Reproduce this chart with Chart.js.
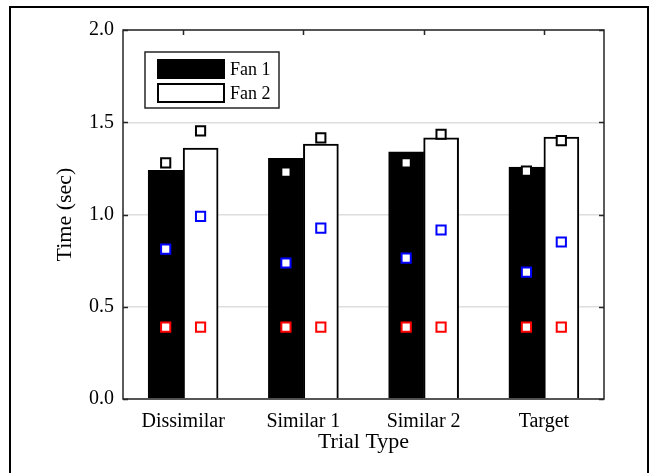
<!DOCTYPE html>
<html>
<head>
<meta charset="utf-8">
<script src="https://cdn.jsdelivr.net/npm/chart.js@4/dist/chart.umd.min.js"></script>
<style>
  html, body { margin: 0; padding: 0; background: #fff; }
  #wrap { width: 650px; height: 473px; }
</style>
</head>
<body>
<div id="wrap"><canvas id="chart"></canvas></div>
<script>
// data
var categories = ['Dissimilar', 'Similar 1', 'Similar 2', 'Target'];
var fan1 = [1.24, 1.305, 1.34, 1.257];
var fan2 = [1.36, 1.382, 1.415, 1.42];
var blackFan1 = [1.28, 1.23, 1.28, 1.235];
var blackFan2 = [1.453, 1.415, 1.435, 1.40];
var blueFan1 = [0.812, 0.737, 0.764, 0.688];
var blueFan2 = [0.99, 0.926, 0.916, 0.851];
var redFan1 = [0.39, 0.39, 0.39, 0.39];
var redFan2 = [0.39, 0.39, 0.39, 0.39];
var yTicks = [0, 0.5, 1.0, 1.5, 2.0];

var FONT = '"Liberation Serif", "Times New Roman", serif';
var SHIFT = 0.145; // half a bar, in category units

function pts(vals, side) {
  return vals.map(function (v, i) { return { x: i + side * SHIFT, y: v }; });
}

function marker(vals, side, color) {
  return {
    type: 'scatter', label: '', data: pts(vals, side), xAxisID: 'xs',
    pointStyle: 'rect', pointRadius: 6.5, pointBorderWidth: 2,
    borderColor: color, backgroundColor: '#fff', order: 0
  };
}

var framePlugin = {
  id: 'frame',
  beforeDraw: function (chart) {
    var ctx = chart.ctx;
    ctx.save();
    ctx.strokeStyle = '#000';
    ctx.lineWidth = 2;
    ctx.strokeRect(10, 7, 638, 500);
    ctx.restore();
  },
  afterDraw: function (chart) {
    var ctx = chart.ctx, a = chart.chartArea;
    var y = chart.scales.y, x = chart.scales.x;
    ctx.save();
    ctx.strokeStyle = '#262626';
    ctx.lineWidth = 1.5;
    ctx.strokeRect(a.left, a.top, a.right - a.left, a.bottom - a.top);
    ctx.beginPath();
    yTicks.forEach(function (t) {
      var py = Math.round(y.getPixelForValue(t)) + 0.5;
      ctx.moveTo(a.left, py); ctx.lineTo(a.left + 5, py);
      ctx.moveTo(a.right, py); ctx.lineTo(a.right - 5, py);
    });
    categories.forEach(function (c, i) {
      var px = Math.round(x.getPixelForValue(i)) + 0.5;
      ctx.moveTo(px, a.top); ctx.lineTo(px, a.top + 5);
    });
    ctx.stroke();

    // legend box inside the plot
    var lx = a.left + 22, ly = a.top + 22;
    ctx.fillStyle = '#fff';
    ctx.fillRect(lx, ly, 134, 56);
    ctx.strokeStyle = '#262626';
    ctx.lineWidth = 1.5;
    ctx.strokeRect(lx, ly, 134, 56);
    var items = chart.data.datasets.filter(function (d) { return d.type === 'bar'; });
    items.forEach(function (d, k) {
      var sy = ly + 8 + k * 24;
      ctx.fillStyle = d.backgroundColor;
      ctx.fillRect(lx + 13, sy, 66, 18);
      ctx.strokeStyle = '#000';
      ctx.lineWidth = 2;
      ctx.strokeRect(lx + 13, sy, 66, 18);
      ctx.fillStyle = '#000';
      ctx.font = '18px ' + FONT;
      ctx.textBaseline = 'middle';
      ctx.fillText(d.label, lx + 85, sy + 10);
    });
    ctx.restore();
  }
};

new Chart(document.getElementById('chart').getContext('2d'), {
  type: 'bar',
  data: {
    labels: categories,
    datasets: [
      marker(blackFan1, -1, '#000'),
      marker(blackFan2, 1, '#000'),
      marker(blueFan1, -1, '#0000ff'),
      marker(blueFan2, 1, '#0000ff'),
      marker(redFan1, -1, '#ff0000'),
      marker(redFan2, 1, '#ff0000'),
      { type: 'bar', label: 'Fan 1', data: fan1, backgroundColor: '#000', borderColor: '#000',
        borderWidth: 2, barThickness: 35, order: 1 },
      { type: 'bar', label: 'Fan 2', data: fan2, backgroundColor: '#fff', borderColor: '#000',
        borderWidth: 2, barThickness: 35, order: 1 }
    ]
  },
  options: {
    responsive: true,
    maintainAspectRatio: false,
    animation: false,
    layout: { padding: { left: 52, right: 46, top: 30, bottom: 18 } },
    plugins: { legend: { display: false }, tooltip: { enabled: false } },
    scales: {
      x: {
        type: 'category',
        offset: true,
        grid: { display: false, offset: true },
        border: { display: false },
        ticks: { color: '#000', font: { family: FONT, size: 20 }, padding: 3 },
        title: { display: true, text: 'Trial Type', color: '#000', font: { family: FONT, size: 22 }, padding: 0 },
        afterFit: function (s) { s.height = 56; }
      },
      xs: { type: 'linear', display: false, offset: false, min: -0.5, max: 3.5, grid: { offset: false } },
      y: {
        min: 0, max: 2,
        afterBuildTicks: function (s) { s.ticks = yTicks.map(function (v) { return { value: v }; }); },
        grid: { color: '#dedede', lineWidth: 1.5, drawTicks: false },
        border: { display: false },
        ticks: {
          color: '#000', font: { family: FONT, size: 20 }, padding: 9,
          callback: function (v) { return Number(v).toFixed(1); }
        },
        title: { display: true, text: 'Time (sec)', color: '#000', font: { family: FONT, size: 22 }, padding: 0 },
        afterFit: function (s) { s.width = 71; }
      }
    }
  },
  plugins: [framePlugin]
});
</script>
</body>
</html>
